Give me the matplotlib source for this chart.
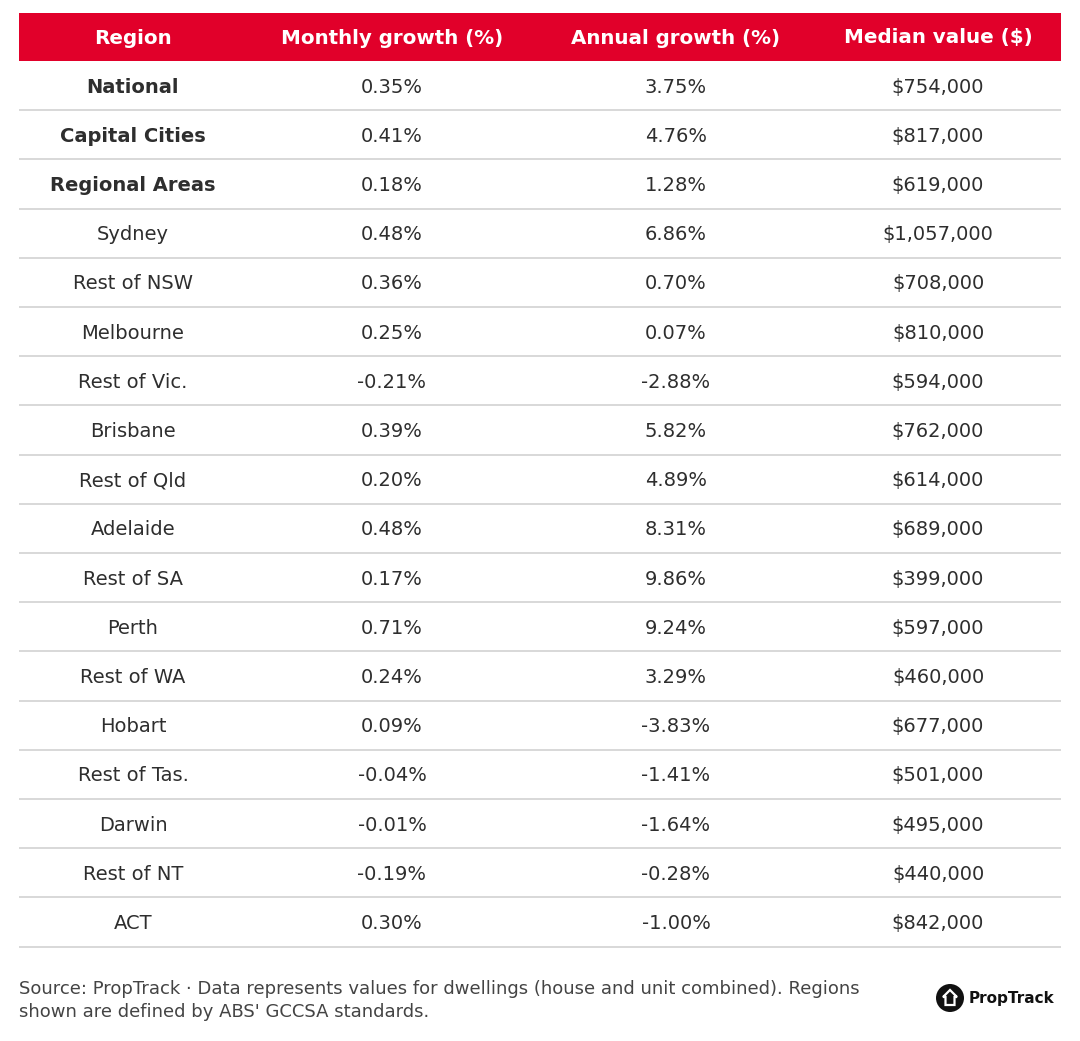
import matplotlib
matplotlib.use("Agg")
import matplotlib.pyplot as plt
from matplotlib.patches import Rectangle, Circle, Polygon

plt.rcParams['font.family'] = ['DejaVu Sans']

headers = ["Region", "Monthly growth (%)", "Annual growth (%)", "Median value ($)"]
regions = ["National", "Capital Cities", "Regional Areas", "Sydney", "Rest of NSW",
           "Melbourne", "Rest of Vic.", "Brisbane", "Rest of Qld", "Adelaide",
           "Rest of SA", "Perth", "Rest of WA", "Hobart", "Rest of Tas.",
           "Darwin", "Rest of NT", "ACT"]
monthly = ["0.35%", "0.41%", "0.18%", "0.48%", "0.36%", "0.25%", "-0.21%", "0.39%",
           "0.20%", "0.48%", "0.17%", "0.71%", "0.24%", "0.09%", "-0.04%", "-0.01%",
           "-0.19%", "0.30%"]
annual = ["3.75%", "4.76%", "1.28%", "6.86%", "0.70%", "0.07%", "-2.88%", "5.82%",
          "4.89%", "8.31%", "9.86%", "9.24%", "3.29%", "-3.83%", "-1.41%", "-1.64%",
          "-0.28%", "-1.00%"]
median = ["$754,000", "$817,000", "$619,000", "$1,057,000", "$708,000", "$810,000",
          "$594,000", "$762,000", "$614,000", "$689,000", "$399,000", "$597,000",
          "$460,000", "$677,000", "$501,000", "$495,000", "$440,000", "$842,000"]
bold_rows = ["National", "Capital Cities", "Regional Areas"]

W, H = 1080, 1041
fig = plt.figure(figsize=(W / 100, H / 100), dpi=100)
ax = fig.add_axes([0, 0, 1, 1])
ax.set_xlim(0, W)
ax.set_ylim(H, 0)
ax.axis('off')

left, right = 19, 1061
col_x = [133, 392, 676, 938]
red = "#E1002A"
txt = "#2e2e2e"

# header
ax.add_patch(Rectangle((left, 13), right - left, 48, facecolor=red, edgecolor='none'))
for x, h in zip(col_x, headers):
    ax.text(x, 38, h, ha='center', va='center', color='white', fontsize=14.3,
            fontweight='bold')

row_h = 49.2
y0 = 61
for i, r in enumerate(regions):
    yc = y0 + row_h * (i + 0.5) + 1.5
    fw = 'bold' if r in bold_rows else 'normal'
    vals = [r, monthly[i], annual[i], median[i]]
    for j, (x, v) in enumerate(zip(col_x, vals)):
        ax.text(x, yc, v, ha='center', va='center', color=txt, fontsize=14,
                fontweight=fw if j == 0 else 'normal')
    yl = y0 + row_h * (i + 1)
    ax.plot([left, right], [yl, yl], color='#d6d6d6', lw=1.3, solid_capstyle='butt')

# footer
ax.text(19, 989, "Source: PropTrack \u00b7 Data represents values for dwellings (house and unit combined). Regions",
        ha='left', va='center', color='#444444', fontsize=13)
ax.text(19, 1012, "shown are defined by ABS' GCCSA standards.",
        ha='left', va='center', color='#444444', fontsize=13)

# logo
cx, cy, rad = 950, 998, 14
ax.add_patch(Circle((cx, cy), rad, facecolor='#111111', edgecolor='none'))
house = [(cx, cy - 8), (cx + 7, cy - 1), (cx + 4.5, cy - 1), (cx + 4.5, cy + 7),
         (cx - 4.5, cy + 7), (cx - 4.5, cy - 1), (cx - 7, cy - 1)]
ax.add_patch(Polygon(house, closed=True, facecolor='none', edgecolor='white', lw=1.6))
ax.text(969, 998, "PropTrack", ha='left', va='center', color='#111111', fontsize=11,
        fontweight='bold')

fig.savefig("out.png", dpi=100)
